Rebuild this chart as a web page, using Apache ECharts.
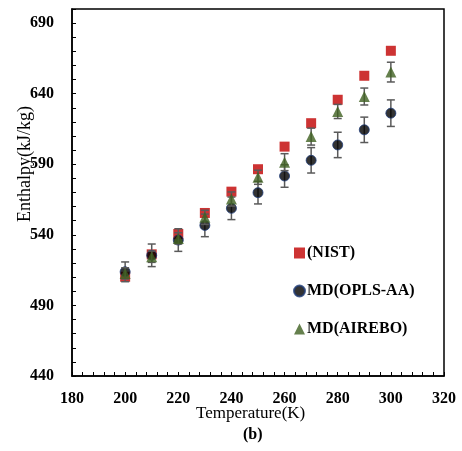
<!DOCTYPE html>
<html>
<head>
<meta charset="utf-8">
<script src="https://cdn.jsdelivr.net/npm/echarts@6/dist/echarts.min.js"></script>
<style>html,body{margin:0;padding:0;background:#fff;}#c{width:462px;height:451px;}</style>
</head>
<body>
<div id="c"></div>
<script>
var temperatures = [200, 210, 220, 230, 240, 250, 260, 270, 280, 290, 300];
var nist = [510.3, 526.2, 540.6, 555.5, 570.6, 586.5, 602.5, 619.1, 635.7, 652.7, 670.4];
var opls = [513.8, 525.5, 536.3, 546.7, 558.8, 569.9, 581.7, 592.8, 603.7, 614.4, 626.2];
var oplsErr = [7, 8, 8, 8, 8, 8, 8, 9, 9, 9, 9.4];
var airebo = [512.7, 524.5, 537.5, 552.4, 565.4, 580.8, 591.5, 609.6, 627.4, 638.0, 655.3];
var aireboErr = [4, 4, 4, 5, 5, 5, 6, 6, 5, 6, 7];
var xTickLabels = [180, 200, 220, 240, 260, 280, 300, 320];
var yTickLabels = [440, 490, 540, 590, 640, 690];

var FONT = '"Liberation Serif", "Times New Roman", serif';

function pts(vals) { return temperatures.map(function (t, i) { return [t, vals[i]]; }); }
function errData(vals, errs) { return temperatures.map(function (t, i) { return [t, vals[i] - errs[i], vals[i] + errs[i]]; }); }
function errSeries(name, vals, errs, z) {
  return {
    type: 'custom', name: name, data: errData(vals, errs), z: z,
    encode: { x: 0, y: [1, 2] },
    renderItem: function (params, api) {
      var x = api.value(0);
      var lo = api.coord([x, api.value(1)]);
      var hi = api.coord([x, api.value(2)]);
      var w = 4;
      var st = { stroke: '#5a5a5a', lineWidth: 1.5 };
      return { type: 'group', children: [
        { type: 'line', shape: { x1: lo[0], y1: lo[1], x2: hi[0], y2: hi[1] }, style: st },
        { type: 'line', shape: { x1: lo[0] - w, y1: lo[1], x2: lo[0] + w, y2: lo[1] }, style: st },
        { type: 'line', shape: { x1: hi[0] - w, y1: hi[1], x2: hi[0] + w, y2: hi[1] }, style: st }
      ]};
    }
  };
}

var chart = echarts.init(document.getElementById('c'), null, { renderer: 'canvas' });
chart.setOption({
  animation: false,
  backgroundColor: '#fff',
  grid: { left: 72, right: 18, top: 9, bottom: 75, show: true, borderColor: '#000', borderWidth: 1.5 },
  xAxis: {
    type: 'value', min: 180, max: 320, interval: 4,
    axisLine: { lineStyle: { color: '#000', width: 1.5 } },
    axisTick: { inside: true, length: 4, lineStyle: { color: '#000', width: 1 } },
    splitLine: { show: false },
    axisLabel: {
      color: '#000', fontFamily: FONT, fontWeight: 'bold', fontSize: 16, margin: 15,
      formatter: function (v) { return xTickLabels.indexOf(v) >= 0 ? String(v) : ''; }
    }
  },
  yAxis: {
    type: 'value', min: 440, max: 700, interval: 10,
    axisLine: { lineStyle: { color: '#000', width: 1.5 } },
    axisTick: { inside: true, length: 4, lineStyle: { color: '#000', width: 1 } },
    splitLine: { show: false },
    axisLabel: {
      color: '#000', fontFamily: FONT, fontWeight: 'bold', fontSize: 16, margin: 18,
      formatter: function (v) { return yTickLabels.indexOf(v) >= 0 ? String(v) : ''; }
    }
  },
  legend: {
    orient: 'vertical', left: 288, top: 240, itemGap: 22, itemWidth: 11, itemHeight: 11,
    data: ['(NIST)', 'MD(OPLS-AA)', 'MD(AIREBO)'],
    textStyle: { color: '#000', fontFamily: FONT, fontWeight: 'bold', fontSize: 16, padding: [0, 0, 0, -3] }
  },
  graphic: [
    { type: 'text', left: 196, top: 405,
      style: { text: 'Temperature(K)', font: '17px ' + FONT, fill: '#000' } },
    { type: 'text', top: 427, left: 243,
      style: { text: '(b)', font: 'bold 16px ' + FONT, fill: '#000' } },
    { type: 'text', x: 16, y: 222, rotation: Math.PI / 2, origin: [0, 0],
      style: { text: 'Enthalpy(kJ/kg)', font: '18px ' + FONT, fill: '#000', textAlign: 'left', textVerticalAlign: 'top' } }
  ],
  series: [
    { type: 'scatter', name: '(NIST)', data: pts(nist), symbol: 'rect', symbolSize: 10, z: 2,
      itemStyle: { color: '#C00000' } },
    errSeries('oplsErr', opls, oplsErr, 3),
    { type: 'scatter', name: 'MD(OPLS-AA)', data: pts(opls), symbol: 'circle', symbolSize: 10, z: 4,
      itemStyle: { color: '#000', borderColor: '#1F3C78', borderWidth: 1 } },
    errSeries('aireboErr', airebo, aireboErr, 5),
    { type: 'scatter', name: 'MD(AIREBO)', data: pts(airebo), symbol: 'triangle', symbolSize: 11, z: 6,
      itemStyle: { color: '#3F6020' } }
  ]
});
</script>
</body>
</html>
